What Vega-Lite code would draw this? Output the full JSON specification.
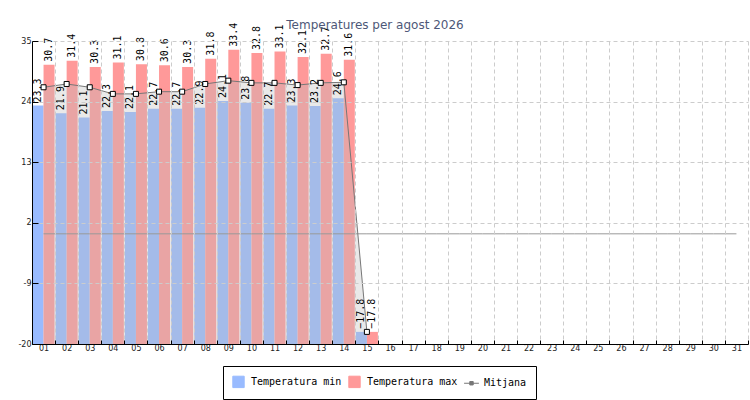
{
  "$schema": "https://vega.github.io/schema/vega-lite/v6.json",
  "width": 716,
  "height": 303,
  "autosize": {"type": "none"},
  "padding": {"left": 32, "top": 41, "right": 2, "bottom": 56},
  "title": {
    "text": "Temperatures per agost 2026",
    "anchor": "middle",
    "baseline": "bottom",
    "offset": 10,
    "dx": -15,
    "dy": 31,
    "font": "DejaVu Sans",
    "fontSize": 12,
    "fontWeight": "normal",
    "color": "#4e5878"
  },
  "data": {
    "values": [
      {"day": "01", "min": 23.3, "max": 30.7, "mitjana": 26.6},
      {"day": "02", "min": 21.9, "max": 31.4, "mitjana": 27.2},
      {"day": "03", "min": 21.1, "max": 30.3, "mitjana": 26.6},
      {"day": "04", "min": 22.3, "max": 31.1, "mitjana": 25.4},
      {"day": "05", "min": 22.1, "max": 30.8, "mitjana": 25.4},
      {"day": "06", "min": 22.7, "max": 30.6, "mitjana": 25.8},
      {"day": "07", "min": 22.7, "max": 30.3, "mitjana": 25.8},
      {"day": "08", "min": 22.9, "max": 31.8, "mitjana": 27.2},
      {"day": "09", "min": 24.1, "max": 33.4, "mitjana": 27.8},
      {"day": "10", "min": 23.8, "max": 32.8, "mitjana": 27.4},
      {"day": "11", "min": 22.7, "max": 33.1, "mitjana": 27.4},
      {"day": "12", "min": 23.3, "max": 32.1, "mitjana": 27.0},
      {"day": "13", "min": 23.2, "max": 32.7, "mitjana": 27.4},
      {"day": "14", "min": 24.6, "max": 31.6, "mitjana": 27.5},
      {"day": "15", "min": -17.8, "max": -17.8, "mitjana": -17.8},
      {"day": "16", "min": null, "max": null, "mitjana": null},
      {"day": "17", "min": null, "max": null, "mitjana": null},
      {"day": "18", "min": null, "max": null, "mitjana": null},
      {"day": "19", "min": null, "max": null, "mitjana": null},
      {"day": "20", "min": null, "max": null, "mitjana": null},
      {"day": "21", "min": null, "max": null, "mitjana": null},
      {"day": "22", "min": null, "max": null, "mitjana": null},
      {"day": "23", "min": null, "max": null, "mitjana": null},
      {"day": "24", "min": null, "max": null, "mitjana": null},
      {"day": "25", "min": null, "max": null, "mitjana": null},
      {"day": "26", "min": null, "max": null, "mitjana": null},
      {"day": "27", "min": null, "max": null, "mitjana": null},
      {"day": "28", "min": null, "max": null, "mitjana": null},
      {"day": "29", "min": null, "max": null, "mitjana": null},
      {"day": "30", "min": null, "max": null, "mitjana": null},
      {"day": "31", "min": null, "max": null, "mitjana": null}
    ]
  },
  "encoding": {
    "x": {
      "field": "day",
      "type": "ordinal",
      "scale": {"paddingInner": 0, "paddingOuter": 0},
      "axis": {
        "title": null,
        "labelAngle": 0,
        "tickBand": "extent",
        "tickSize": -4,
        "grid": true,
        "gridColor": "#cccccc",
        "gridDash": [4, 3],
        "domainColor": "black",
        "tickColor": "black",
        "labelFont": "DejaVu Sans",
        "labelFontSize": 8,
        "labelColor": "#222222",
        "labelPadding": 4,
        "zindex": 1
      }
    }
  },
  "layer": [
    {
      "transform": [
        {"fold": ["min", "max"], "as": ["series", "value"]},
        {"filter": "datum.value != null"}
      ],
      "mark": {"type": "bar"},
      "encoding": {
        "xOffset": {
          "field": "series",
          "scale": {"domain": ["min", "max"], "paddingInner": 0, "paddingOuter": 0.05}
        },
        "y": {
          "field": "value",
          "type": "quantitative",
          "scale": {"domain": [-20, 35], "nice": false, "zero": false},
          "axis": {
            "title": null,
            "values": [-20, -17.25, -14.5, -11.75, -9, -6.25, -3.5, -0.75, 2, 4.75, 7.5, 10.25, 13, 15.75, 18.5, 21.25, 24, 26.75, 29.5, 32.25, 35],
            "labelExpr": "abs((datum.value + 20) / 11 - round((datum.value + 20) / 11)) < 0.01 ? '' + datum.value : ''",
            "gridOpacity": {
              "condition": {"test": "abs((datum.value + 20) / 11 - round((datum.value + 20) / 11)) < 0.01", "value": 1},
              "value": 0
            },
            "tickSize": {
              "condition": {"test": "abs((datum.value + 20) / 11 - round((datum.value + 20) / 11)) < 0.01", "value": -6},
              "value": -3
            },
            "gridColor": "#cccccc",
            "gridDash": [4, 3],
            "domainColor": "black",
            "tickColor": "black",
            "labelFont": "DejaVu Sans",
            "labelFontSize": 8,
            "labelColor": "#222222",
            "labelPadding": 7,
            "zindex": 1
          }
        },
        "y2": {"datum": -20},
        "color": {
          "field": "series",
          "type": "nominal",
          "scale": {"domain": ["min", "max", "mitjana"], "range": ["#99bbff", "#ff9999", "#777777"]},
          "legend": {
            "title": null,
            "orient": "none",
            "legendX": 191,
            "legendY": 325,
            "direction": "horizontal",
            "strokeColor": "black",
            "fillColor": "white",
            "padding": 9,
            "labelFont": "DejaVu Sans Mono",
            "labelFontSize": 10,
            "labelColor": "black",
            "labelOffset": 6,
            "columnPadding": 4,
            "symbolSize": 130,
            "symbolStrokeColor": "#222222",
            "symbolStrokeWidth": 1,
            "labelExpr": "datum.label == 'min' ? 'Temperatura min' : datum.label == 'max' ? 'Temperatura max' : 'Mitjana'",
            "encode": {
              "symbols": {
                "update": {
                  "shape": {"signal": "datum.value === 'mitjana' ? 'M-1.3,0H1.3M-0.3,-0.3H0.3V0.3H-0.3Z' : 'square'"},
                  "fill": {"signal": "datum.value === 'mitjana' ? '#ffffff' : scale('color', datum.value)"},
                  "stroke": {"value": "#222222"},
                  "strokeWidth": {"value": 1},
                  "opacity": {"value": 1}
                }
              }
            }
          }
        }
      }
    },
    {
      "transform": [{"filter": "datum.mitjana != null"}],
      "mark": {"type": "area", "color": "#bbbbbb", "opacity": 0.33},
      "encoding": {
        "y": {"field": "mitjana", "type": "quantitative"},
        "y2": {"datum": -20}
      }
    },
    {
      "mark": {"type": "line", "color": "#999999", "strokeWidth": 1},
      "encoding": {
        "y": {"datum": 0, "type": "quantitative"}
      }
    },
    {
      "transform": [{"filter": "datum.mitjana != null"}],
      "mark": {"type": "line", "strokeWidth": 1},
      "encoding": {
        "y": {"field": "mitjana", "type": "quantitative"},
        "color": {"datum": "mitjana", "type": "nominal"}
      }
    },
    {
      "transform": [{"filter": "datum.mitjana != null"}],
      "mark": {"type": "point", "shape": "square", "size": 25, "filled": true, "fill": "white", "stroke": "black", "strokeWidth": 1, "opacity": 1},
      "encoding": {
        "y": {"field": "mitjana", "type": "quantitative"}
      }
    },
    {
      "transform": [
        {"fold": ["min", "max"], "as": ["series", "value"]},
        {"filter": "datum.value != null"}
      ],
      "mark": {"type": "text", "angle": 270, "align": "left", "baseline": "middle", "dx": 3, "font": "DejaVu Sans Mono", "fontSize": 10, "color": "black"},
      "encoding": {
        "xOffset": {"field": "series"},
        "y": {"field": "value", "type": "quantitative"},
        "text": {"field": "value", "type": "quantitative", "format": ".1f"}
      }
    }
  ],
  "config": {
    "view": {"stroke": null}
  }
}
